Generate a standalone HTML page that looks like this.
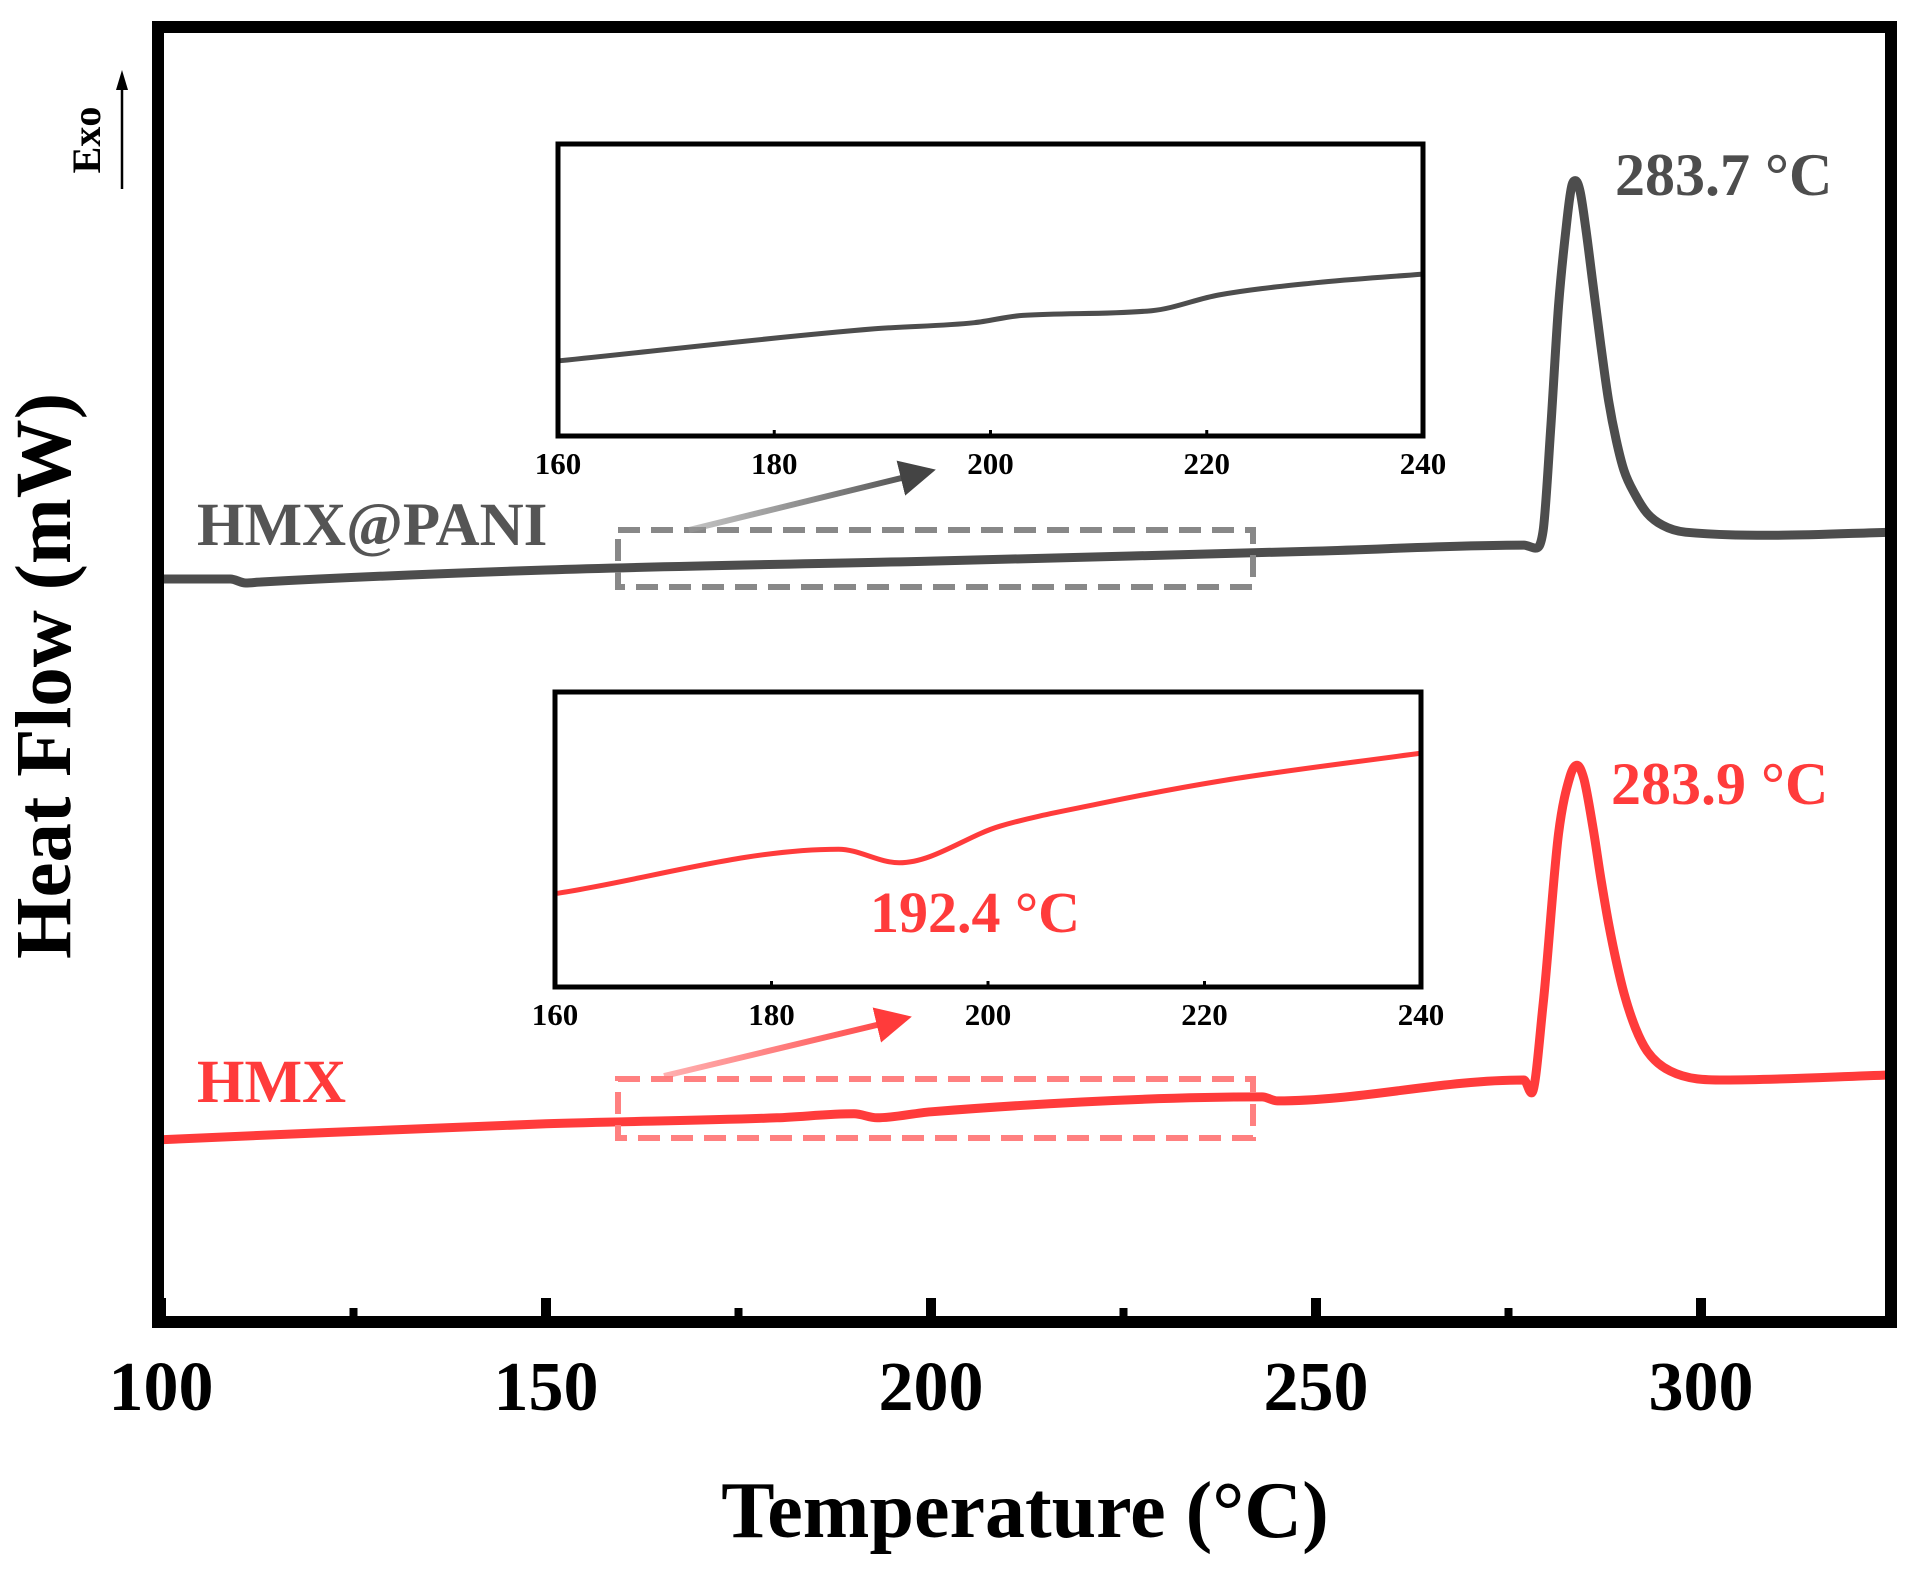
<!DOCTYPE html>
<html><head><meta charset="utf-8"><style>
html,body{margin:0;padding:0;background:#fff;}
svg{display:block;font-family:"Liberation Serif",serif;font-weight:bold;}
</style></head><body>
<svg id="chart" width="1911" height="1573" viewBox="0 0 1911 1573" xmlns="http://www.w3.org/2000/svg">
<defs>
<linearGradient id="ga" x1="0" x2="1"><stop offset="0" stop-color="#999" stop-opacity="0.6"/><stop offset="1" stop-color="#444"/></linearGradient>
<linearGradient id="ra" x1="0" x2="1"><stop offset="0" stop-color="#ff7b7b" stop-opacity="0.6"/><stop offset="1" stop-color="#ff3b3b"/></linearGradient>
<marker id="mg" markerWidth="6" markerHeight="6" refX="5" refY="3" orient="auto" markerUnits="strokeWidth"><path d="M0,0 L6,3 L0,6 Z" fill="#444"/></marker>
<marker id="mr" markerWidth="6" markerHeight="6" refX="5" refY="3" orient="auto" markerUnits="strokeWidth"><path d="M0,0 L6,3 L0,6 Z" fill="#ff3b3b"/></marker>
</defs>
<g id="main"></g>
<rect x="158" y="27" width="1733" height="1295" fill="none" stroke="#000" stroke-width="12"/>
<g id="xticks"></g>
<text x="1025" y="1537" font-size="80" text-anchor="middle">Temperature (°C)</text>
<text transform="translate(70,676) rotate(-90)" font-size="79" text-anchor="middle">Heat Flow (mW)</text>
<g>
<line x1="122" y1="189" x2="122" y2="82" stroke="#000" stroke-width="2.5"/>
<path d="M116,90 L122,70 L128,90 Z" fill="#000"/>
<text transform="translate(100,140) rotate(-90)" font-size="40" text-anchor="middle">Exo</text>
</g>
<text x="197" y="545" font-size="61" fill="#555">HMX@PANI</text>
<text x="197" y="1102" font-size="61" fill="#ff3b3b">HMX</text>
<text x="1615" y="195" font-size="60" fill="#4d4d4d">283.7 °C</text>
<text x="1611" y="804" font-size="60" fill="#ff3b3b">283.9 °C</text>
<rect x="618" y="530" width="635" height="57" fill="none" stroke="#888" stroke-width="6" stroke-dasharray="22,11"/>
<rect x="618" y="1079" width="635" height="59" fill="none" stroke="#ff8080" stroke-width="6" stroke-dasharray="22,11"/>
<line x1="689" y1="530" x2="930" y2="471" stroke="url(#ga)" stroke-width="6" marker-end="url(#mg)"/>
<line x1="664" y1="1076" x2="906" y2="1018" stroke="url(#ra)" stroke-width="6" marker-end="url(#mr)"/>
<g id="inset1"></g>
<g id="inset2"></g>
<text x="975" y="932" font-size="58" fill="#ff3b3b" text-anchor="middle">192.4 °C</text>
</svg>
<script>
// main chart data
const xTicks = [100, 150, 200, 250, 300];
const xMinorTicks = [125, 175, 225, 275];
const pandTemps = [100, 109, 111, 113, 150, 200, 250, 277, 278.5, 279.5, 280.5, 281.5, 282.5, 283.2, 283.7, 284.3, 285, 286, 287, 288, 289, 290, 291.5, 293, 295, 298, 310, 324.5];
const pandVals  = [7.46, 7.46, 7.42, 7.43, 7.55, 7.64, 7.74, 7.80, 7.77, 7.95, 9.0, 10.2, 11.0, 11.4, 11.46, 11.35, 11.0, 10.4, 9.8, 9.25, 8.85, 8.55, 8.3, 8.12, 8.0, 7.93, 7.90, 7.93];
const hmxTemps = [100, 150, 180, 190, 193, 200, 243, 245, 277, 278, 279.5, 281.5, 283, 283.9, 284.8, 286, 287, 288, 289, 290, 291.5, 293, 296, 303, 324.5];
const hmxVals  = [1.83, 1.99, 2.05, 2.09, 2.05, 2.11, 2.26, 2.22, 2.43, 2.30, 3.2, 4.9, 5.48, 5.59, 5.45, 4.95, 4.45, 4.0, 3.62, 3.3, 2.95, 2.72, 2.52, 2.43, 2.48];
// inset data
const insetTicks = [160, 180, 200, 220, 240];
const inset1Temps = [160.2, 189.3, 198.5, 203, 214.9, 221.1, 230.1, 239.8];
const inset1Vals  = [2.58, 3.67, 3.88, 4.13, 4.29, 4.83, 5.25, 5.54];
const inset2Temps = [160.3, 186.2, 191.8, 201.1, 210.1, 221.4, 240];
const inset2Vals  = [3.18, 4.67, 4.21, 5.45, 6.2, 6.98, 7.93];

const NS = "http://www.w3.org/2000/svg";
function mk(tag, attrs, parent) { const e = document.createElementNS(NS, tag); for (const k in attrs) e.setAttribute(k, attrs[k]); parent.appendChild(e); return e; }
const xMain = t => 161 + (t - 100) * 7.70;
const yMain = v => 1322 - v * 99.6;
const main = document.getElementById('main');
// monotone cubic (Fritsch-Carlson) in x — no loops
function smoothPath(p) {
  const n = p.length, d = [], m = [];
  for (let i = 0; i < n - 1; i++) d.push((p[i+1][1] - p[i][1]) / (p[i+1][0] - p[i][0]));
  m[0] = d[0]; m[n-1] = d[n-2];
  for (let i = 1; i < n - 1; i++) m[i] = (d[i-1] * d[i] <= 0) ? 0 : (d[i-1] + d[i]) / 2;
  for (let i = 0; i < n - 1; i++) {
    if (d[i] === 0) { m[i] = 0; m[i+1] = 0; continue; }
    const a = m[i] / d[i], b = m[i+1] / d[i], s = a*a + b*b;
    if (s > 9) { const t = 3 / Math.sqrt(s); m[i] = t*a*d[i]; m[i+1] = t*b*d[i]; }
  }
  let s = 'M' + p[0][0].toFixed(1) + ',' + p[0][1].toFixed(1);
  for (let i = 0; i < n - 1; i++) {
    const h = (p[i+1][0] - p[i][0]) / 3;
    s += ' C' + (p[i][0] + h).toFixed(1) + ',' + (p[i][1] + m[i]*h).toFixed(1) + ' ' +
         (p[i+1][0] - h).toFixed(1) + ',' + (p[i+1][1] - m[i+1]*h).toFixed(1) + ' ' +
         p[i+1][0].toFixed(1) + ',' + p[i+1][1].toFixed(1);
  }
  return s;
}
function series(temps, vals, xs, ys, color, w, parent, name) {
  const pts = temps.map((t, i) => [xs(t), ys(vals[i])]);
  const p = mk('path', {d: smoothPath(pts), fill: 'none', stroke: color, 'stroke-width': w, 'stroke-linejoin': 'round', 'stroke-linecap': 'round'}, parent);
  
  
}
series(pandTemps, pandVals, xMain, yMain, '#4d4d4d', 9, main, 'series-hmx-pani');
series(hmxTemps, hmxVals, xMain, yMain, '#ff3b3b', 9, main, 'series-hmx');

const xt = document.getElementById('xticks');
xTicks.forEach(t => {
  const l = mk('line', {x1: xMain(t), x2: xMain(t), y1: 1316, y2: 1298, stroke: '#000', 'stroke-width': 10}, xt);
  
  
  const tx = mk('text', {x: xMain(t), y: 1410, 'font-size': 70, 'text-anchor': 'middle'}, xt);
  tx.textContent = t;
  
  
});
xMinorTicks.forEach(t => {
  const l = mk('line', {x1: xMain(t), x2: xMain(t), y1: 1316, y2: 1308, stroke: '#000', 'stroke-width': 8}, xt);
  
  
});

function inset(gid, box, temps, vals, color, name) {
  const g = document.getElementById(gid);
  const [x0, y0, x1, y1] = box;
  const xs = t => x0 + (t - 160) / 80 * (x1 - x0);
  const ys = v => y1 - v / 10 * (y1 - y0);
  series(temps, vals, xs, ys, color, 5, g, name + '-curve');
  const r = mk('rect', {x: x0, y: y0, width: x1 - x0, height: y1 - y0, fill: 'none', stroke: '#000', 'stroke-width': 5}, g);
  
  
  insetTicks.forEach(t => {
    const l = mk('line', {x1: xs(t), x2: xs(t), y1: y1, y2: y1 - 6, stroke: '#000', 'stroke-width': 3}, g);
    
    
    const tx = mk('text', {x: xs(t), y: y1 + 38, 'font-size': 31, 'text-anchor': 'middle'}, g);
    tx.textContent = t;
    
    
  });
}
inset('inset1', [558, 144, 1423, 436], inset1Temps, inset1Vals, '#4d4d4d', 'inset-hmx-pani');
inset('inset2', [555, 692, 1421, 987], inset2Temps, inset2Vals, '#ff3b3b', 'inset-hmx');
</script>
</body></html>
